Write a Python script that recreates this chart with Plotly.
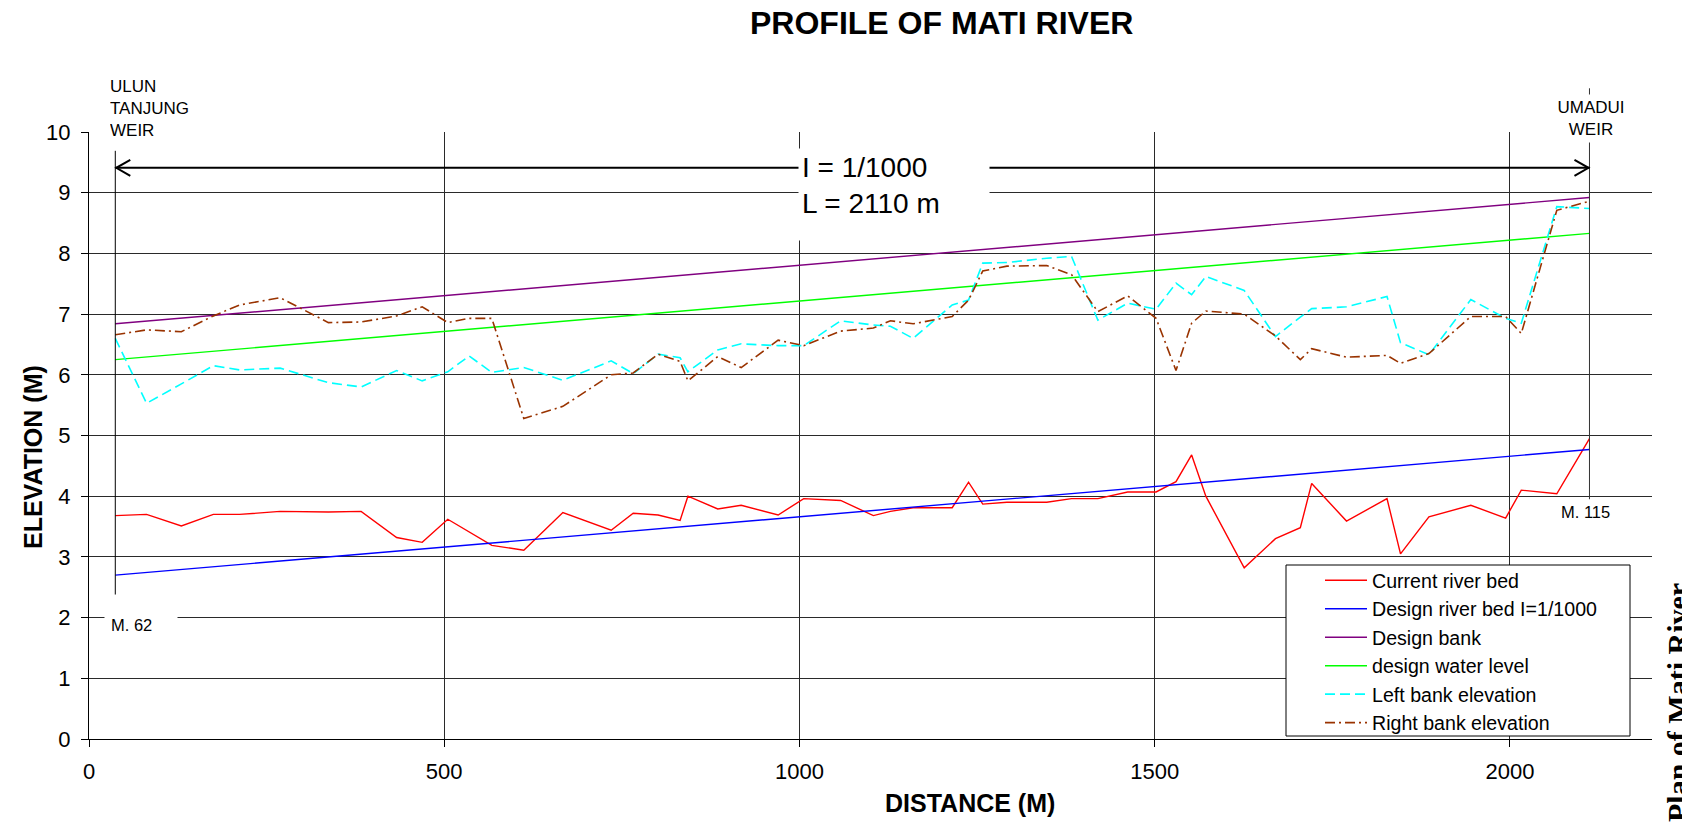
import plotly.graph_objects as go

# ---------------- data ----------------
stations = [37, 81, 130, 175, 212, 269, 337, 383, 433, 469, 505, 535, 567, 612, 667,
            735, 766, 801, 832, 843, 885, 918, 970, 1006, 1058, 1104, 1128, 1160, 1215,
            1238, 1258, 1292, 1348, 1383, 1420, 1462, 1502, 1530, 1552, 1572, 1626, 1670,
            1705, 1721, 1770, 1827, 1846, 1886, 1945, 1994, 2016, 2066, 2112]

current_bed = [3.68, 3.70, 3.51, 3.70, 3.70, 3.75, 3.74, 3.75, 3.32, 3.24, 3.62, 3.41, 3.19,
               3.11, 3.73, 3.44, 3.72, 3.69, 3.60, 4.00, 3.79, 3.85, 3.69, 3.96, 3.93, 3.68,
               3.75, 3.81, 3.81, 4.23, 3.87, 3.90, 3.90, 3.96, 3.96, 4.07, 4.07, 4.24, 4.68,
               4.00, 2.82, 3.30, 3.48, 4.21, 3.59, 3.96, 3.05, 3.66, 3.85, 3.64, 4.10, 4.04, 4.95]

left_bank = [6.60, 5.53, 5.85, 6.15, 6.08, 6.11, 5.87, 5.80, 6.07, 5.90, 6.05, 6.31, 6.04,
             6.12, 5.91, 6.23, 6.02, 6.34, 6.28, 6.05, 6.41, 6.51, 6.48, 6.48, 6.89, 6.82,
             6.80, 6.60, 7.15, 7.23, 7.84, 7.85, 7.92, 7.95, 6.90, 7.18, 7.08, 7.51, 7.32,
             7.62, 7.39, 6.63, 6.95, 7.09, 7.12, 7.29, 6.53, 6.33, 7.24, 6.93, 6.85, 8.77, 8.74]

right_bank = [6.66, 6.74, 6.71, 6.97, 7.15, 7.27, 6.86, 6.87, 6.97, 7.12, 6.86, 6.93, 6.93,
              5.28, 5.48, 6.00, 6.03, 6.34, 6.22, 5.90, 6.30, 6.12, 6.57, 6.48, 6.72, 6.77,
              6.89, 6.84, 6.96, 7.23, 7.71, 7.79, 7.80, 7.65, 7.04, 7.30, 6.93, 6.07, 6.85,
              7.05, 7.00, 6.64, 6.25, 6.43, 6.29, 6.32, 6.19, 6.35, 6.96, 6.96, 6.68, 8.71, 8.86]

design_x = [37, 2112]
design_bed = [2.70, 4.77]
design_bank = [6.84, 8.92]
design_water = [6.25, 8.33]

x_ticks = [0, 500, 1000, 1500, 2000]
y_ticks = list(range(0, 11))

# ---------------- layout constants ----------------
W, H = 1682, 826
ML, MR, MT, MB = 89, 30, 132, 87
PW, PH = W - ML - MR, H - MT - MB
XMAX, YMAX = 2200, 10
FONT = "Liberation Sans, Arial, sans-serif"
GRID = "#2a2a2a"


def px_x(px):
    return (px - ML) / PW


def px_y(py):
    return (H - MB - py) / PH


fig = go.Figure()

series = [
    ("Current river bed", stations, current_bed, dict(color="#FF0000", width=1.4)),
    ("Design river bed I=1/1000", design_x, design_bed, dict(color="#0000FF", width=1.4)),
    ("Design bank", design_x, design_bank, dict(color="#800080", width=1.4)),
    ("design water level", design_x, design_water, dict(color="#00FF00", width=1.4)),
    ("Left bank elevation", stations, left_bank, dict(color="#00FFFF", width=1.6, dash="10px,5px")),
    ("Right bank elevation", stations, right_bank, dict(color="#993300", width=1.6, dash="10px,4px,2px,4px")),
]
for name, xs, ys, ln in series:
    fig.add_trace(go.Scatter(x=xs, y=ys, mode="lines", name=name, line=ln, hoverinfo="skip"))

shapes = []
x_start, x_end = stations[0], stations[-1]
arrow_y = 9.41
# left station marker
shapes.append(dict(type="line", xref="x", yref="y", x0=x_start, x1=x_start, y0=2.38, y1=9.69,
                   line=dict(color="black", width=1)))
# right station marker (extends above plot area)
shapes.append(dict(type="line", xref="x domain", yref="y domain", x0=x_end / XMAX, x1=x_end / XMAX,
                   y0=3.95 / YMAX, y1=10.72 / YMAX, line=dict(color="#333333", width=1)))
# dimension arrow
shapes.append(dict(type="line", xref="x", yref="y", x0=x_start, x1=x_end, y0=arrow_y, y1=arrow_y,
                   line=dict(color="black", width=2)))
shapes.append(dict(type="path", xref="x", yref="y", xsizemode="pixel", ysizemode="pixel",
                   xanchor=x_start, yanchor=arrow_y, path="M 15,8 L 1,0 L 15,-8",
                   line=dict(color="black", width=2)))
shapes.append(dict(type="path", xref="x", yref="y", xsizemode="pixel", ysizemode="pixel",
                   xanchor=x_end, yanchor=arrow_y, path="M -15,8 L -1,0 L -15,-8",
                   line=dict(color="black", width=2)))
# legend frame
shapes.append(dict(type="rect", xref="paper", yref="paper", x0=px_x(1286), x1=px_x(1630),
                   y0=px_y(736), y1=px_y(565), fillcolor="white", layer="above",
                   line=dict(color="black", width=1)))

annotations = [
    dict(text="<b>PROFILE OF MATI RIVER</b>", xref="paper", yref="paper", x=px_x(941), y=px_y(23),
         showarrow=False, font=dict(family=FONT, size=32, color="black"), xanchor="center", yanchor="middle"),
    dict(text="<b>ELEVATION (M)</b>", xref="paper", yref="paper", x=px_x(33), y=px_y(457),
         showarrow=False, textangle=-90, font=dict(family=FONT, size=25, color="black"),
         xanchor="center", yanchor="middle"),
    dict(text="<b>DISTANCE (M)</b>", xref="paper", yref="paper", x=px_x(970), y=px_y(803),
         showarrow=False, font=dict(family=FONT, size=25, color="black"), xanchor="center", yanchor="middle"),
    dict(text="ULUN<br>TANJUNG<br>WEIR", xref="paper", yref="paper", x=px_x(106), y=px_y(109),
         showarrow=False, align="left", xanchor="left", yanchor="middle", width=95, borderpad=3,
         bgcolor="white", font=dict(family=FONT, size=17, color="black")),
    dict(text="UMADUI<br>WEIR", xref="paper", yref="paper", x=px_x(1591), y=px_y(119),
         showarrow=False, align="center", xanchor="center", yanchor="middle", width=96, borderpad=3,
         bgcolor="white", font=dict(family=FONT, size=17, color="black")),
    dict(text="I = 1/1000<br>L = 2110 m", xref="paper", yref="paper", x=px_x(798), y=px_y(148),
         showarrow=False, align="left", valign="top", xanchor="left", yanchor="top", width=184,
         height=85, borderpad=3, bgcolor="white", font=dict(family=FONT, size=28, color="black")),
    dict(text="M. 62", xref="paper", yref="paper", x=px_x(104), y=px_y(625),
         showarrow=False, align="left", xanchor="left", yanchor="middle", width=60, borderpad=6,
         bgcolor="white", font=dict(family=FONT, size=16.5, color="black")),
    dict(text="M. 115", xref="paper", yref="paper", x=px_x(1585), y=px_y(512),
         showarrow=False, xanchor="center", yanchor="middle",
         font=dict(family=FONT, size=16.5, color="black")),
    dict(text="<b>Plan of Mati River</b>", xref="paper", yref="paper", x=px_x(1677), y=px_y(703),
         showarrow=False, textangle=-90, xanchor="center", yanchor="middle",
         font=dict(family="Liberation Serif, Times New Roman, serif", size=30, color="black")),
]

fig.update_layout(
    width=W, height=H, autosize=False,
    margin=dict(l=ML, r=MR, t=MT, b=MB, pad=0),
    paper_bgcolor="white", plot_bgcolor="white",
    font=dict(family=FONT, size=22, color="black"),
    showlegend=True,
    legend=dict(x=px_x(1292), y=px_y(561), xanchor="left", yanchor="top",
                bgcolor="rgba(0,0,0,0)", borderwidth=0, itemwidth=42, indentation=28,
                font=dict(family=FONT, size=19.6, color="black"), tracegroupgap=0),
    shapes=shapes,
    annotations=annotations,
    xaxis=dict(range=[0, XMAX], tickvals=x_ticks, ticktext=[str(v) for v in x_ticks],
               showgrid=True, gridcolor=GRID, gridwidth=1, zeroline=False,
               showline=True, linecolor="black", linewidth=1, ticks="outside", ticklen=7,
               ticklabelstandoff=6,
               tickcolor="black", tickfont=dict(family=FONT, size=22, color="black")),
    yaxis=dict(range=[0, YMAX], tickvals=y_ticks, ticktext=[str(v) for v in y_ticks],
               showgrid=True, gridcolor=GRID, gridwidth=1, zeroline=False,
               showline=True, linecolor="black", linewidth=1, ticks="outside", ticklen=7,
               ticklabelstandoff=6,
               tickcolor="black", tickfont=dict(family=FONT, size=22, color="black")),
)

fig.write_html("out.html", config={"displayModeBar": False},
               post_script="document.body.style.margin='0';document.body.style.overflow='hidden';")
